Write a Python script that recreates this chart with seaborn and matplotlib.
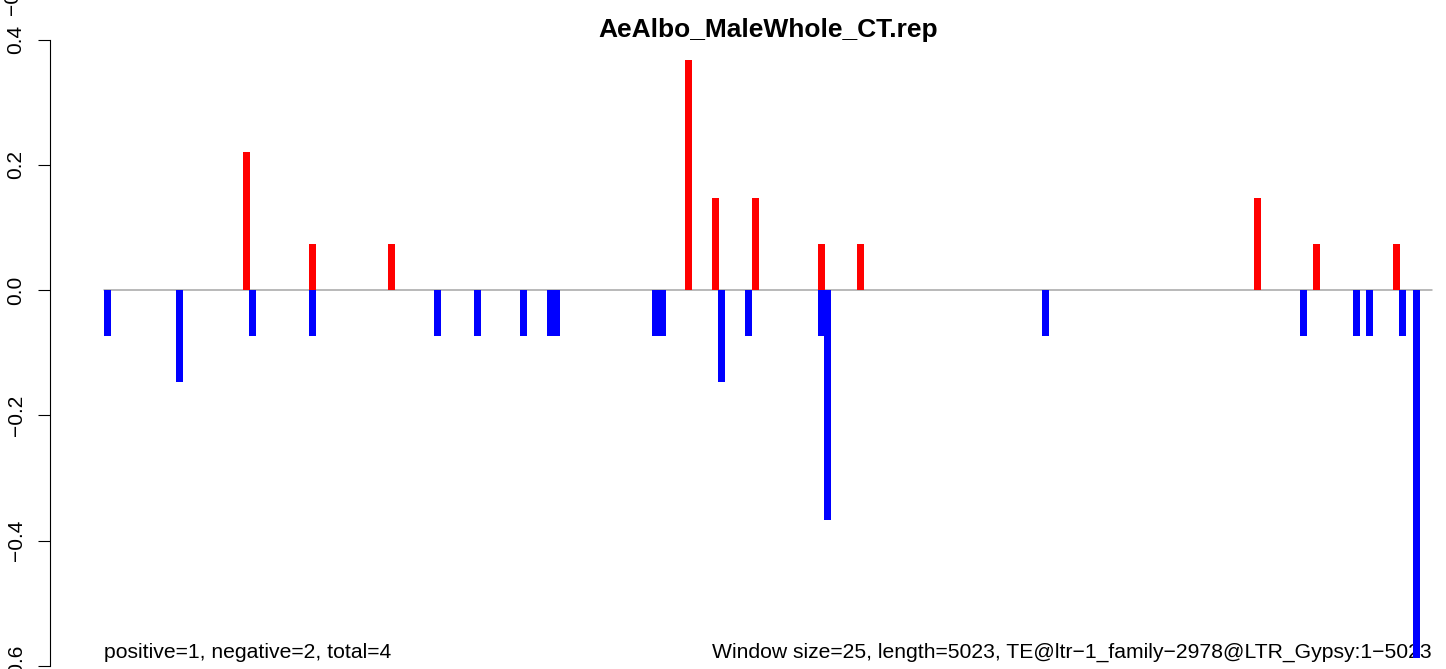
import numpy as np
import pandas as pd
import matplotlib
matplotlib.use("Agg")
import matplotlib.pyplot as plt
import seaborn as sns

# window size 25bp, element length 5023
window_size = 25
seq_len = 5023

# window index (0-based) and value of each bar
pos_windows = [21, 31, 43, 88, 92, 98, 108, 114, 174, 183, 195]
pos_values = [0.2202, 0.0734, 0.0734, 0.367, 0.1468, 0.1468, 0.0734, 0.0734, 0.1468, 0.0734, 0.0734]

neg_windows = [0, 11, 22, 31, 50, 56, 63, 67, 68, 83, 84, 93, 97, 108, 109, 142, 181, 189, 191, 196, 198]
neg_values = [-0.0734, -0.1468, -0.0734, -0.0734, -0.0734, -0.0734, -0.0734, -0.0734, -0.0734, -0.0734,
              -0.0734, -0.1468, -0.0734, -0.0734, -0.367, -0.0734, -0.0734, -0.0734, -0.0734, -0.0734, -0.587]

title = "AeAlbo_MaleWhole_CT.rep"
left_note = "positive=1, negative=2, total=4"
right_note = "Window size=25, length=5023, TE@ltr\u22121_family\u22122978@LTR_Gypsy:1\u22125023"

df = pd.DataFrame({
    "pos": [w * window_size + window_size / 2 for w in pos_windows + neg_windows],
    "value": pos_values + neg_values,
    "strand": ["pos"] * len(pos_windows) + ["neg"] * len(neg_windows),
})

sns.set_style("white")
plt.rcParams["font.family"] = ["Liberation Sans", "DejaVu Sans"]
plt.rcParams["axes.unicode_minus"] = True
plt.rcParams["text.color"] = "black"
plt.rcParams["ytick.color"] = "black"
plt.rcParams["ytick.labelcolor"] = "black"

fig = plt.figure(figsize=(14.46, 6.69), dpi=100)
W, H = 1446, 669
# plot region (R style, runs a bit past the right / bottom edge)
ax = fig.add_axes([50 / W, (H - 682) / H, 1437 / W, (682 - 36.5) / H])

ax.plot([1, seq_len], [0, 0], color="#a6a6a6", lw=1.1, zorder=1)
sns.barplot(data=df, x="pos", y="value", hue="strand", native_scale=True, orient="x",
            dodge=False, palette={"pos": "red", "neg": "blue"}, saturation=1,
            errorbar=None, width=1.06, linewidth=0, legend=False, ax=ax, zorder=3)

ax.set_xlim(-204, 5231)
ax.set_ylim(-0.626, 0.405)
ax.set_xlabel("")
ax.set_ylabel("")
ax.set_xticks([])
ax.set_yticks([-0.6, -0.4, -0.2, 0.0, 0.2, 0.4])
ax.set_yticklabels(["\u22120.6", "\u22120.4", "\u22120.2", "0.0", "0.2", "0.4"],
                   rotation=90, va="center", fontsize=15, color="black")
ax.tick_params(axis="y", direction="out", length=8.6, width=0.8, color="black", pad=9, left=True)
for side in ["top", "right", "bottom"]:
    ax.spines[side].set_visible(False)
ax.spines["left"].set_bounds(-0.6, 0.4)
ax.spines["left"].set_color("black")
ax.spines["left"].set_linewidth(0.8)
ax.patch.set_alpha(0)

ax.text(1, -0.587, left_note, ha="left", va="baseline", fontsize=15.2, color="black", zorder=2)
ax.text(seq_len, -0.587, right_note, ha="right", va="baseline", fontsize=15.2, color="black", zorder=2)

fig.text(768.5 / W, 1 - 37 / H, title, ha="center", va="baseline", fontsize=19,
         fontweight="bold", color="black")
# clipped label left over at the top-left corner
fig.text(13 / W, 1 - 15 / H, "\u22120.6", rotation=90, ha="center", va="bottom",
         fontsize=15, color="black")

fig.savefig("out.png", dpi=100)
